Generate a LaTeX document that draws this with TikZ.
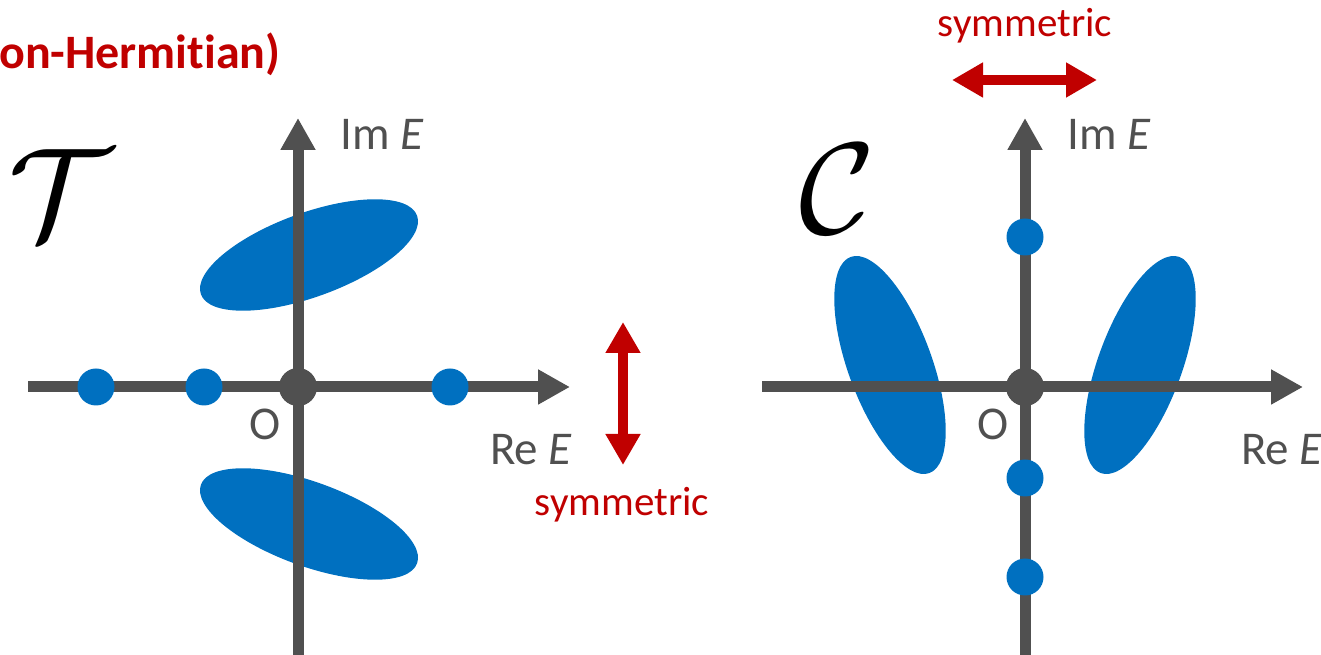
\documentclass[tikz,border=0pt]{standalone}
\usepackage{graphicx}
\usepackage{fontspec}
\setmainfont[Ligatures=NoCommon]{Carlito}
\usetikzlibrary{arrows.meta}
\definecolor{axisgray}{HTML}{505050}
\definecolor{symred}{HTML}{C00000}
\definecolor{specblue}{HTML}{0070C0}
\tikzset{
  axis/.style={draw=axisgray, line width=11pt, -{Triangle[width=33pt,length=32pt]}},
  symarrow/.style={draw=symred, line width=10pt, {Triangle[width=33pt,length=31pt]}-{Triangle[width=33pt,length=31pt]}},
  dot/.style={circle, fill=specblue, inner sep=0pt, minimum size=37pt},
  origin/.style={circle, fill=axisgray, inner sep=0pt, minimum size=38pt},
  band/.style={fill=specblue, draw=none},
  lbl/.style={text=axisgray, inner sep=0pt, font=\fontsize{47}{56}\selectfont, anchor=base west},
  symlbl/.style={text=symred, inner sep=0pt, font=\fontsize{41}{49}\selectfont, anchor=base},
  bigsym/.style={inner sep=0pt},
}
\begin{document}
\begin{tikzpicture}[x=1pt,y=1pt]
\useasboundingbox (0,0) rectangle (1321,655);
% title
\node[text=symred, inner sep=0pt, anchor=base west, font=\bfseries\fontsize{48}{58}\selectfont] (title) at (-1,586) {on-Hermitian)};
% ---------- left panel (T) ----------
\node[bigsym] (Tsym) at (60,461) {\scalebox{13}{$\mathcal{T}$}};
\coordinate (LxS) at (28,268);
\coordinate (LxE) at (570,268);
\coordinate (LyS) at (298,-10);
\coordinate (LyE) at (298,537);
\fill[band, rotate around={20:(309,400)}] (309,400) ellipse [x radius=115, y radius=42];
\fill[band, rotate around={-20:(309,131)}] (309,131) ellipse [x radius=115, y radius=42];
\draw[axis] (LxS) -- (LxE);
\draw[axis] (LyS) -- (LyE);
\node[dot] (L1) at (96,268) {};
\node[dot] (L2) at (204,268) {};
\node[dot] (L3) at (450,268) {};
\node[origin] (LO) at (298,268) {};
\node[lbl] (LIm) at (340,505) {Im \textit{E}};
\node[lbl] (LOl) at (249,215) {O};
\node[lbl] (LRe) at (490,190) {Re \textit{E}};
\coordinate (LsT) at (623,333);
\coordinate (LsB) at (623,190);
\draw[symarrow] (LsB) -- (LsT);
\node[symlbl] (Lsym) at (622,139) {symmetric};
% ---------- right panel (C) ----------
\node[bigsym] (Csym) at (838,466) {\scalebox{13}{$\mathcal{C}$}};
\coordinate (RxS) at (762,268);
\coordinate (RxE) at (1303,268);
\coordinate (RyS) at (1025,-10);
\coordinate (RyE) at (1025,537);
\fill[band, rotate around={110:(890,290)}] (890,290) ellipse [x radius=115, y radius=42];
\fill[band, rotate around={70:(1140,290)}] (1140,290) ellipse [x radius=115, y radius=42];
\draw[axis] (RxS) -- (RxE);
\draw[axis] (RyS) -- (RyE);
\node[dot] (R1) at (1025,418) {};
\node[dot] (R2) at (1025,177) {};
\node[dot] (R3) at (1025,78) {};
\node[origin] (RO) at (1025,268) {};
\node[lbl] (RIm) at (1067,505) {Im \textit{E}};
\node[lbl] (ROl) at (977,215) {O};
\node[lbl] (RRe) at (1241,190) {Re \textit{E}};
\coordinate (RsL) at (952,575);
\coordinate (RsR) at (1097,575);
\draw[symarrow] (RsL) -- (RsR);
\node[symlbl] (Rsym) at (1025,618) {symmetric};
\end{tikzpicture}
\end{document}
